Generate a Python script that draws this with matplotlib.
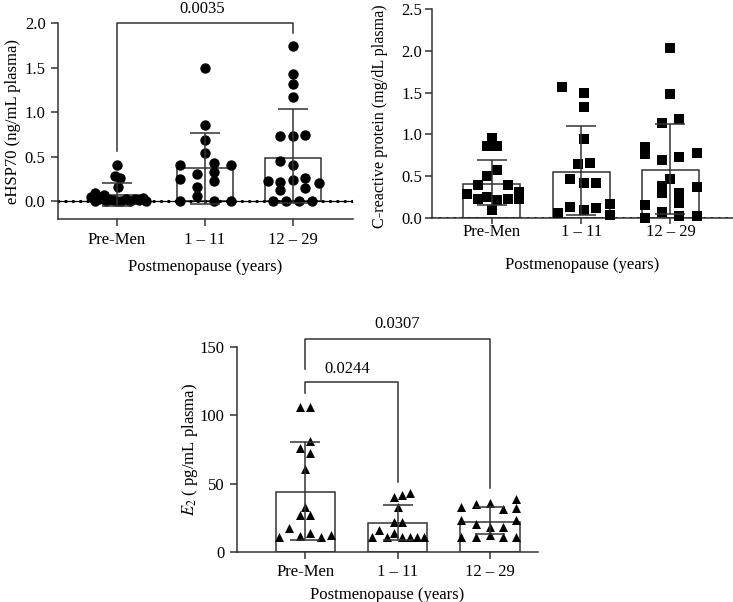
import matplotlib
matplotlib.use("Agg")
import matplotlib.pyplot as plt
import numpy as np

plt.rcParams['font.family'] = ['Liberation Serif', 'DejaVu Serif']
plt.rcParams['mathtext.fontset'] = 'stix'
plt.rcParams['font.size'] = 12

groups = ["Pre-Men", "1 \u2013 11", "12 \u2013 29"]
xlabel = "Postmenopause (years)"

# eHSP70 (ng/mL plasma)
hsp_pre = [0.41, 0.28, 0.26, 0.16, 0.09, 0.07, 0.05, 0.04, 0.03, 0.03, 0.02,
           0.02, 0.01, 0.01, 0.0, 0.0, 0.0, 0.0, 0.0, 0.0]
hsp_1_11 = [1.49, 0.86, 0.69, 0.54, 0.41, 0.43, 0.41, 0.33, 0.31, 0.25, 0.23,
            0.16, 0.06, 0.0, 0.0, 0.0]
hsp_12_29 = [1.74, 1.43, 1.31, 1.17, 0.73, 0.73, 0.74, 0.45, 0.41, 0.23, 0.22,
             0.24, 0.26, 0.20, 0.12, 0.15, 0.0, 0.0, 0.0, 0.0]
hsp_mean = [0.07, 0.37, 0.49]
hsp_err_lo = [0.12, 0.40, 0.51]
hsp_err_hi = [0.13, 0.40, 0.55]

# C-reactive protein (mg/dL plasma)
crp_pre = [0.96, 0.86, 0.86, 0.57, 0.50, 0.39, 0.39, 0.29, 0.23, 0.25, 0.22,
           0.23, 0.31, 0.23, 0.09]
crp_1_11 = [1.57, 1.49, 1.33, 0.94, 0.65, 0.66, 0.47, 0.42, 0.42, 0.13, 0.09,
            0.12, 0.06, 0.17, 0.04]
crp_12_29 = [2.03, 1.48, 1.14, 1.18, 0.85, 0.76, 0.69, 0.73, 0.78, 0.47, 0.38,
             0.30, 0.30, 0.18, 0.37, 0.15, 0.075, 0.02, 0.02, 0.0]
crp_mean = [0.41, 0.55, 0.57]
crp_err_lo = [0.26, 0.51, 0.52]
crp_err_hi = [0.28, 0.55, 0.56]

# E2 (pg/mL plasma)
e2_pre = [106.3, 106.3, 81.2, 75.9, 72.2, 61.0, 33.2, 27.0, 27.0, 17.3, 11.2,
          11.7, 14.1, 11.2, 12.2]
e2_1_11 = [40.5, 41.7, 43.4, 32.7, 22.2, 22.2, 16.1, 11.2, 11.2, 13.7, 11.2,
           11.2, 11.2, 11.2]
e2_12_29 = [33.2, 35.1, 35.6, 31.2, 38.5, 32.0, 23.4, 20.5, 18.5, 18.0, 23.4,
            11.2, 11.2, 12.2, 11.2, 11.2]
e2_mean = [43.7, 21.0, 21.7]
e2_err_lo = [35.0, 12.0, 8.5]
e2_err_hi = [36.5, 13.4, 11.5]

# horizontal scatter offsets of the points (category units)
hsp_off = [[0.0, -0.02, 0.03, 0.01, -0.25, -0.15, -0.30, 0.30, -0.10, 0.20, 0.10,
            -0.20, 0.25, -0.05, 0.05, 0.15, -0.25, 0.33, 0.0, -0.12],
           [0.0, 0.0, 0.0, 0.0, -0.28, 0.10, 0.30, 0.10, -0.09, -0.28, 0.10,
            -0.09, -0.09, -0.28, 0.10, 0.30],
           [0.0, 0.0, 0.0, 0.0, -0.15, 0.0, 0.14, -0.15, 0.0, -0.29, -0.15,
            0.0, 0.14, 0.29, -0.15, 0.14, -0.23, -0.08, 0.07, 0.22]]
crp_off = [[0.0, -0.05, 0.06, 0.06, -0.05, -0.16, 0.18, -0.28, -0.16, -0.05,
            0.06, 0.18, 0.30, 0.30, 0.0],
           [-0.22, 0.03, 0.03, 0.03, -0.04, 0.10, -0.12, 0.03, 0.17, -0.12,
            0.03, 0.17, -0.26, 0.32, 0.32],
           [0.0, 0.0, -0.10, 0.10, -0.28, -0.28, -0.10, 0.10, 0.30, 0.0, -0.10,
            -0.10, 0.10, 0.10, 0.30, -0.28, -0.10, 0.10, 0.30, -0.28]]
e2_off = [[-0.06, 0.05, 0.05, -0.06, 0.05, 0.0, 0.0, -0.06, 0.05, -0.18, -0.29,
           -0.06, 0.05, 0.17, 0.28],
          [-0.04, 0.05, 0.13, 0.0, -0.04, 0.05, -0.20, -0.28, -0.12, -0.04,
           0.05, 0.13, 0.21, 0.29],
          [-0.31, -0.15, 0.0, 0.14, 0.28, 0.28, -0.31, -0.15, 0.0, 0.14, 0.28,
           -0.31, -0.15, 0.0, 0.14, 0.28]]

W, H = 733, 602
LC = '#333333'


def px_axes(fig, left, right, top, bottom):
    return fig.add_axes([left / W, 1 - bottom / H, (right - left) / W, (bottom - top) / H])


def draw_panel(ax, data, offs, mean, lo, hi, marker, ms, ylim, yticks, fmt,
               ylabel, xlim, zero_line, ylabelpad, xlabelpad):
    x = np.arange(len(groups))
    ax.bar(x, mean, width=0.64, facecolor='white', edgecolor=LC, linewidth=1.1, zorder=1)
    for i, (vals, off) in enumerate(zip(data, offs)):
        ax.scatter(i + np.array(off), vals, marker=marker, s=ms, color='black',
                   linewidths=0, zorder=3, clip_on=False)
    ax.errorbar(x, mean, yerr=[lo, hi], fmt='none', ecolor=LC, elinewidth=1.1,
                capsize=11, capthick=1.1, zorder=4)
    if zero_line:
        ax.axhline(0, color='black', lw=0.9, zorder=2)
        ax.axhline(0, color='black', lw=2.3, linestyle=(0, (0.1, 2.2)),
                   dash_capstyle='round', zorder=2)
    ax.set_xlim(*xlim)
    ax.set_ylim(*ylim)
    ax.set_yticks(yticks)
    ax.set_yticklabels([fmt.format(v) for v in yticks])
    ax.set_xticks(x)
    ax.set_xticklabels(groups)
    ax.set_xlabel(xlabel, labelpad=xlabelpad)
    ax.set_ylabel(ylabel, labelpad=ylabelpad)
    for s in ['top', 'right']:
        ax.spines[s].set_visible(False)
    for s in ['left', 'bottom']:
        ax.spines[s].set_color(LC)
        ax.spines[s].set_linewidth(1.1)
    ax.tick_params(direction='out', length=5, width=1.1, color=LC, pad=4)


def bracket(ax, x0, x1, y0, ytop, y1, text, tx, ty):
    ax.plot([x0, x0, x1, x1], [y0, ytop, ytop, y1], color=LC, lw=1.1, clip_on=False)
    ax.text(tx, ty, text, ha='center', va='center', fontsize=12, clip_on=False)


fig = plt.figure(figsize=(W / 100, H / 100), dpi=100)

axA = px_axes(fig, 58, 353, 23, 219)
draw_panel(axA, [hsp_pre, hsp_1_11, hsp_12_29], hsp_off, hsp_mean, hsp_err_lo,
           hsp_err_hi, 'o', 56, (-0.2, 2.0), [0, 0.5, 1.0, 1.5, 2.0], '{:.1f}',
           'eHSP70 (ng/mL plasma)', (-0.67, 2.68), True, 2.4, 8)
bracket(axA, 0, 2, 0.56, 2.0, 1.89, '0.0035', 0.97, 2.16)

axB = px_axes(fig, 432, 733, 9, 218)
draw_panel(axB, [crp_pre, crp_1_11, crp_12_29], crp_off, crp_mean, crp_err_lo,
           crp_err_hi, 's', 44, (0, 2.5), [0, 0.5, 1.0, 1.5, 2.0, 2.5], '{:.1f}',
           'C-reactive protein (mg/dL plasma)', (-0.67, 2.7), True, 9.6, 12.5)
axB.tick_params(axis='x', length=4, pad=0)
axB.tick_params(axis='y', pad=2)
axB.yaxis.label.set_fontsize(11.6)
axB.yaxis.label.set_y(0.485)

axC = px_axes(fig, 237, 538, 347, 552)
draw_panel(axC, [e2_pre, e2_1_11, e2_12_29], e2_off, e2_mean, e2_err_lo,
           e2_err_hi, '^', 42, (0, 150), [0, 50, 100, 150], '{:.0f}',
           r'$E_2$ ( pg/mL plasma)', (-0.74, 2.52), False, -0.5, 5)
bracket(axC, 0, 2, 133.6, 155.6, 46.6, '0.0307', 1.0, 166.8)
bracket(axC, 0, 1, 116, 124.1, 51.4, '0.0244', 0.45, 133.9)

fig.savefig('out.png', dpi=100)
